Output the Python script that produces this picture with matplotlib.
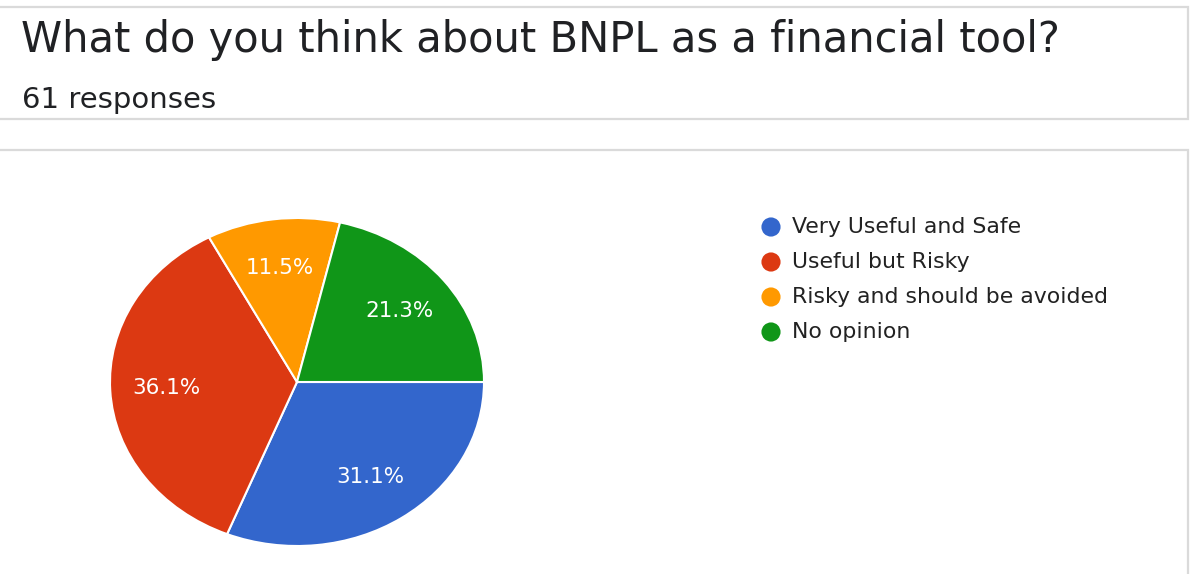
import matplotlib
matplotlib.use("Agg")
import matplotlib.pyplot as plt
from matplotlib.patches import Rectangle

# Survey data
question = "What do you think about BNPL as a financial tool?"
response_text = "61 responses"
categories = ["Very Useful and Safe", "Useful but Risky",
              "Risky and should be avoided", "No opinion"]
shares = [31.1, 36.1, 11.5, 21.3]
colors = ["#3366cc", "#dc3912", "#ff9900", "#109618"]

W, H = 1196, 574
fig = plt.figure(figsize=(W / 100, H / 100), dpi=100)
fig.patch.set_facecolor("white")

# Full-figure overlay in pixel coordinates for the card frames and text
bg = fig.add_axes([0, 0, 1, 1])
bg.set_xlim(0, W)
bg.set_ylim(H, 0)
bg.axis("off")

border = "#dadada"
bg.add_patch(Rectangle((-2, 7), 1190, 112, facecolor="white",
                       edgecolor=border, linewidth=1.6))
bg.add_patch(Rectangle((-2, 150), 1190, 440, facecolor="white",
                       edgecolor=border, linewidth=1.6))

bg.text(21, 52, question, fontsize=30, color="#202124",
        family="DejaVu Sans", va="baseline", ha="left")
bg.text(22, 108, response_text, fontsize=21, color="#202124",
        family="DejaVu Sans", va="baseline", ha="left")

# Legend
legend_y = [227, 262, 297, 332]
for y, lab, c in zip(legend_y, categories, colors):
    bg.scatter([771], [y], s=190, color=c, edgecolors="none", zorder=3)
    bg.text(792, y, lab, fontsize=15.8, color="#222222",
            family="DejaVu Sans", va="center", ha="left")

# Pie chart
cx, cy, rx, ry = 297, 382, 187, 164
pie_ax = fig.add_axes([(cx - rx) / W, (H - cy - ry) / H,
                       2 * rx / W, 2 * ry / H])
wedges, texts, autotexts = pie_ax.pie(
    shares, colors=colors, startangle=0, counterclock=False,
    autopct="%1.1f%%", pctdistance=0.7,
    wedgeprops=dict(edgecolor="white", linewidth=1.5),
    textprops=dict(color="white", fontsize=15.5, family="DejaVu Sans"),
)
pie_ax.set_aspect("auto")
pie_ax.set_xlim(-1, 1)
pie_ax.set_ylim(-1, 1)
pie_ax.axis("off")

fig.savefig("out.png", dpi=100, facecolor="white")
